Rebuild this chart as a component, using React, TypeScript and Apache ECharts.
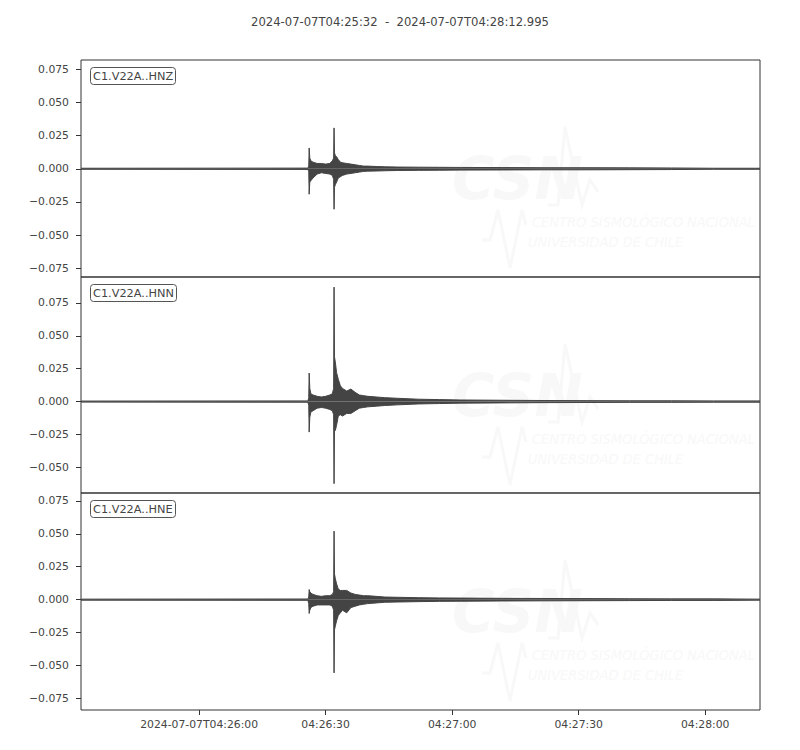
import React, { useEffect, useRef } from "react";
import * as echarts from "echarts";

// Time axis: seconds after 2024-07-07T04:25:32
const TITLE = "2024-07-07T04:25:32  -  2024-07-07T04:28:12.995";
const T_MAX = 160.995;
const X_TICKS = [28, 58, 88, 118, 148];
const X_TICK_LABELS = ["2024-07-07T04:26:00", "04:26:30", "04:27:00", "04:27:30", "04:28:00"];

const CHANNELS = ["C1.V22A..HNZ", "C1.V22A..HNN", "C1.V22A..HNE"];
const Y_RANGES = [
  [-0.0816, 0.082],
  [-0.0695, 0.0947],
  [-0.0838, 0.081],
];
const Y_TICKS = [
  [-0.075, -0.05, -0.025, 0, 0.025, 0.05, 0.075],
  [-0.05, -0.025, 0, 0.025, 0.05, 0.075],
  [-0.075, -0.05, -0.025, 0, 0.025, 0.05, 0.075],
];

// Envelope sample times (s)
const TIMES = [
  0, 53.8, 54.0, 54.1, 54.25, 54.5, 55.0, 56.0, 57.0, 58.0, 59.0, 59.6, 59.9, 60.0, 60.1, 60.3,
  60.6, 61.0, 61.5, 62.0, 63.0, 64.0, 65.0, 66.0, 67.0, 68.0, 70.0, 72.0, 75.0, 80.0, 85.0, 90.0,
  100.0, 110.0, 120.0, 130.0, 140.0, 150.0, 160.995,
];

// HNZ envelope
const HNZ_UPPER = [
  0.0004, 0.0005, 0.002, 0.0157, 0.008, 0.006, 0.005, 0.004, 0.004, 0.0035, 0.004, 0.006, 0.008, 0.0308,
  0.012, 0.01, 0.009, 0.007, 0.005, 0.0045, 0.004, 0.0035, 0.003, 0.0025, 0.002, 0.002, 0.0017, 0.0015,
  0.0013, 0.0012, 0.0011, 0.001, 0.0009, 0.0008, 0.0008, 0.0007, 0.0006, 0.0004, 0.0004,
];
const HNZ_LOWER = [
  -0.0004, -0.0005, -0.002, -0.0192, -0.01, -0.009, -0.007, -0.004, -0.003, -0.0035, -0.004, -0.005,
  -0.008, -0.0305, -0.014, -0.012, -0.01, -0.007, -0.006, -0.005, -0.004, -0.0035, -0.003, -0.0025,
  -0.002, -0.0018, -0.0017, -0.0015, -0.0013, -0.0012, -0.0011, -0.001, -0.0009, -0.0008, -0.0008,
  -0.0007, -0.0006, -0.0004, -0.0004,
];

// HNN envelope
const HNN_UPPER = [
  0.0004, 0.0005, 0.003, 0.0217, 0.01, 0.006, 0.005, 0.004, 0.0035, 0.004, 0.005, 0.006, 0.01, 0.087,
  0.034, 0.03, 0.022, 0.017, 0.012, 0.01, 0.008, 0.0095, 0.007, 0.005, 0.0045, 0.004, 0.0035, 0.003,
  0.0025, 0.0018, 0.0015, 0.0012, 0.001, 0.0008, 0.0007, 0.0006, 0.0006, 0.0005, 0.0005,
];
const HNN_LOWER = [
  -0.0004, -0.0005, -0.003, -0.0232, -0.012, -0.008, -0.007, -0.005, -0.0045, -0.005, -0.006, -0.007,
  -0.01, -0.0624, -0.02, -0.022, -0.018, -0.011, -0.01, -0.011, -0.009, -0.009, -0.007, -0.005, -0.0045,
  -0.004, -0.0035, -0.003, -0.0025, -0.0018, -0.0015, -0.0012, -0.001, -0.0008, -0.0007, -0.0006,
  -0.0006, -0.0005, -0.0005,
];

// HNE envelope
const HNE_UPPER = [
  0.0004, 0.0005, 0.002, 0.0077, 0.006, 0.005, 0.004, 0.003, 0.0025, 0.003, 0.003, 0.004, 0.006, 0.052,
  0.0195, 0.016, 0.012, 0.008, 0.007, 0.007, 0.007, 0.005, 0.004, 0.0035, 0.003, 0.003, 0.0025, 0.002,
  0.0018, 0.0015, 0.0013, 0.0012, 0.001, 0.0009, 0.0008, 0.0007, 0.0006, 0.0006, 0.0004,
];
const HNE_LOWER = [
  -0.0004, -0.0005, -0.003, -0.0105, -0.008, -0.006, -0.005, -0.004, -0.004, -0.004, -0.004, -0.005,
  -0.008, -0.0556, -0.023, -0.02, -0.016, -0.012, -0.01, -0.008, -0.01, -0.006, -0.005, -0.004, -0.0035,
  -0.003, -0.0025, -0.002, -0.0018, -0.0015, -0.0013, -0.0012, -0.001, -0.0009, -0.0008, -0.0007,
  -0.0006, -0.0006, -0.0004,
];

const UPPERS = [HNZ_UPPER, HNN_UPPER, HNE_UPPER];
const LOWERS = [HNZ_LOWER, HNN_LOWER, HNE_LOWER];

const FONT = "DejaVu Sans";
const TRACE = "#444444";
const TEXT = "#444444";

const fmtY = (v: number) => (v < 0 ? "\u2212" + Math.abs(v).toFixed(3) : v.toFixed(3));

export default function App() {
  const ref = useRef<HTMLDivElement>(null);
  useEffect(() => {
    if (!ref.current) return;
    const chart = echarts.init(ref.current, null, { renderer: "svg" });
    const grids = [
      { left: 81, width: 679, top: 60, height: 217 },
      { left: 81, width: 679, top: 277, height: 216 },
      { left: 81, width: 679, top: 493, height: 217 },
    ].map((g) => ({ ...g, show: true, borderColor: "#333", borderWidth: 1, backgroundColor: "transparent" }));

    const xAxes = [0, 1, 2].map((i) => ({
      type: "value",
      gridIndex: i,
      position: "bottom",
      min: 0,
      max: T_MAX,
      axisLine: { show: false, onZero: false },
      splitLine: { show: false },
      axisTick: {
        show: i === 2,
        length: 5,
        lineStyle: { color: "#333" },
        customValues: X_TICKS,
      },
      axisLabel: {
        show: i === 2,
        customValues: X_TICKS,
        margin: 9,
        color: TEXT,
        fontFamily: FONT,
        fontSize: 10.8,
        formatter: (v: number) => {
          const k = X_TICKS.findIndex((t) => Math.abs(t - v) < 1e-6);
          return k >= 0 ? X_TICK_LABELS[k] : "";
        },
      },
    }));

    const yAxes = [0, 1, 2].map((i) => ({
      type: "value",
      gridIndex: i,
      position: "left",
      min: Y_RANGES[i][0],
      max: Y_RANGES[i][1],
      axisLine: { show: false, onZero: false },
      splitLine: { show: false },
      axisTick: { show: true, length: 5, lineStyle: { color: "#333" }, customValues: Y_TICKS[i] },
      axisLabel: {
        customValues: Y_TICKS[i],
        margin: 12,
        color: TEXT,
        fontFamily: FONT,
        fontSize: 10.8,
        formatter: (v: number) => fmtY(v),
      },
    }));

    const series: any[] = [];
    [0, 1, 2].forEach((i) => {
      [UPPERS[i], LOWERS[i]].forEach((arr) => {
        series.push({
          type: "line",
          xAxisIndex: i,
          yAxisIndex: i,
          data: TIMES.map((t, j) => [t, arr[j]]),
          symbol: "none",
          silent: true,
          z: 3,
          lineStyle: { color: TRACE, width: 1 },
          areaStyle: { color: TRACE, opacity: 1 },
        });
      });
    });

    const titles: any[] = [
      {
        text: TITLE,
        left: "center",
        top: 11,
        textStyle: { fontFamily: FONT, fontSize: 11.6, fontWeight: "normal", color: TEXT },
      },
    ];
    const tops = [60, 277, 493];
    CHANNELS.forEach((c, i) => {
      titles.push({
        text: c,
        left: 90,
        top: tops[i] + 7,
        padding: [4, 3, 3, 3],
        borderColor: "#555",
        borderWidth: 1,
        borderRadius: 3,
        backgroundColor: "#fff",
        textStyle: { fontFamily: FONT, fontSize: 11.3, fontWeight: "normal", color: TEXT },
      });
    });

    const WM = "#f8f8f8";
    const graphics: any[] = [];
    tops.forEach((top, i) => {
      const dy = top - 60;
      graphics.push(
        {
          type: "polyline",
          z: -1,
          silent: true,
          shape: { points: [[548, 205 + dy], [558, 205 + dy], [565, 127 + dy], [582, 205 + dy], [590, 180 + dy], [598, 192 + dy]] },
          style: { stroke: WM, lineWidth: 3, fill: null },
        },
        {
          type: "polyline",
          z: -1,
          silent: true,
          shape: { points: [[482, 240 + dy], [490, 240 + dy], [498, 210 + dy], [510, 268 + dy], [522, 210 + dy], [526, 225 + dy]] },
          style: { stroke: WM, lineWidth: 3, fill: null },
        },
        {
          type: "text",
          z: -1,
          silent: true,
          x: 452,
          y: 150 + dy,
          style: { text: "CSN", fill: WM, font: "italic bold 58px 'DejaVu Sans'" },
        },
        {
          type: "text",
          z: -1,
          silent: true,
          x: 532,
          y: 214 + dy,
          style: { text: "CENTRO SISMOLÓGICO NACIONAL", fill: WM, font: "italic 14.5px 'DejaVu Sans Condensed'" },
        },
        {
          type: "text",
          z: -1,
          silent: true,
          x: 528,
          y: 234 + dy,
          style: { text: "UNIVERSIDAD DE CHILE", fill: WM, font: "italic 14.5px 'DejaVu Sans Condensed'" },
        }
      );
    });

    chart.setOption({
      animation: false,
      backgroundColor: "#fff",
      title: titles,
      grid: grids,
      xAxis: xAxes,
      yAxis: yAxes,
      series,
      graphic: graphics,
    });
    return () => chart.dispose();
  }, []);
  return <div ref={ref} style={{ width: 800, height: 750, position: "absolute", left: 0, top: 0 }} />;
}
